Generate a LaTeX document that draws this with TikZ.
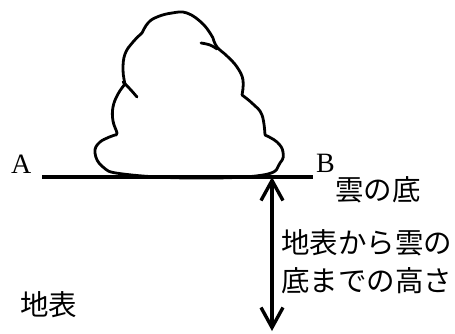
\documentclass[tikz,border=0pt]{standalone}
\usepackage{fontspec}
\setmainfont{Liberation Serif}
\newfontfamily\jp{Noto Sans CJK JP}
\usetikzlibrary{arrows.meta}
\begin{document}
\begin{tikzpicture}[x=1pt,y=-1pt,
  outline/.style={line width=2.8pt,line cap=round,line join=round},
  ground/.style={line width=3.4pt},
  height/.style={line width=3.4pt,{Straight Barb[length=20pt,width=22pt,line width=3.4pt]}-{Straight Barb[length=20pt,width=22pt,line width=3.4pt]}},
  latin/.style={font=\fontsize{28}{30}\selectfont,inner sep=0pt},
  jtext/.style={font=\jp\fontsize{28.5}{38}\selectfont,inner sep=0pt,align=left}]
\useasboundingbox (0,0) rectangle (455,333);

% cloud outline, drawn lobe by lobe
\draw[outline]
  plot[smooth,tension=0.7] coordinates {(115,135) (100,142) (95,153) (103,167) (123,174) (190,178) (263,175) (280,163) (283,152) (277,142) (265,135)}
  plot[smooth,tension=0.7] coordinates {(265,135) (262,115) (253,104) (242,95)}
  plot[smooth,tension=0.7] coordinates {(242,95) (243,80) (237,67) (227,56) (217,47) (213,38)}
  plot[smooth,tension=0.7] coordinates {(213,38) (203,24) (187,13) (172,13) (157,17) (148,23) (142,33)}
  plot[smooth,tension=0.7] coordinates {(142,33) (133,42) (125,54) (123,70) (125,84)}
  plot[smooth,tension=0.7] coordinates {(125,84) (118,94) (113,107) (113,121) (117,133) (115,135)};
% inner creases
\draw[outline] plot[smooth,tension=0.7] coordinates {(123,82) (130,89) (137,97)};
\draw[outline] plot[smooth,tension=0.7] coordinates {(201,43) (210,45) (217,49)};

% cloud base line
\coordinate (lineA) at (42,177);
\coordinate (lineB) at (313,177);
\draw[ground] (lineA) -- (lineB);
\node[latin,anchor=base west] (labA) at (11,173) {A};
\node[latin,anchor=base west] (labB) at (316,172) {B};

% height from the ground to the cloud base
\coordinate (top) at (272,177);
\coordinate (bottom) at (272,331);
\draw[height] (top) -- (bottom);

\node[jtext,anchor=west] (base) at (335,190) {雲の底};
\node[jtext,anchor=west] (hgt) at (281,261.5) {地表から雲の\\底までの高さ};
\node[jtext,anchor=west] (surf) at (20,305) {地表};
\end{tikzpicture}
\end{document}
